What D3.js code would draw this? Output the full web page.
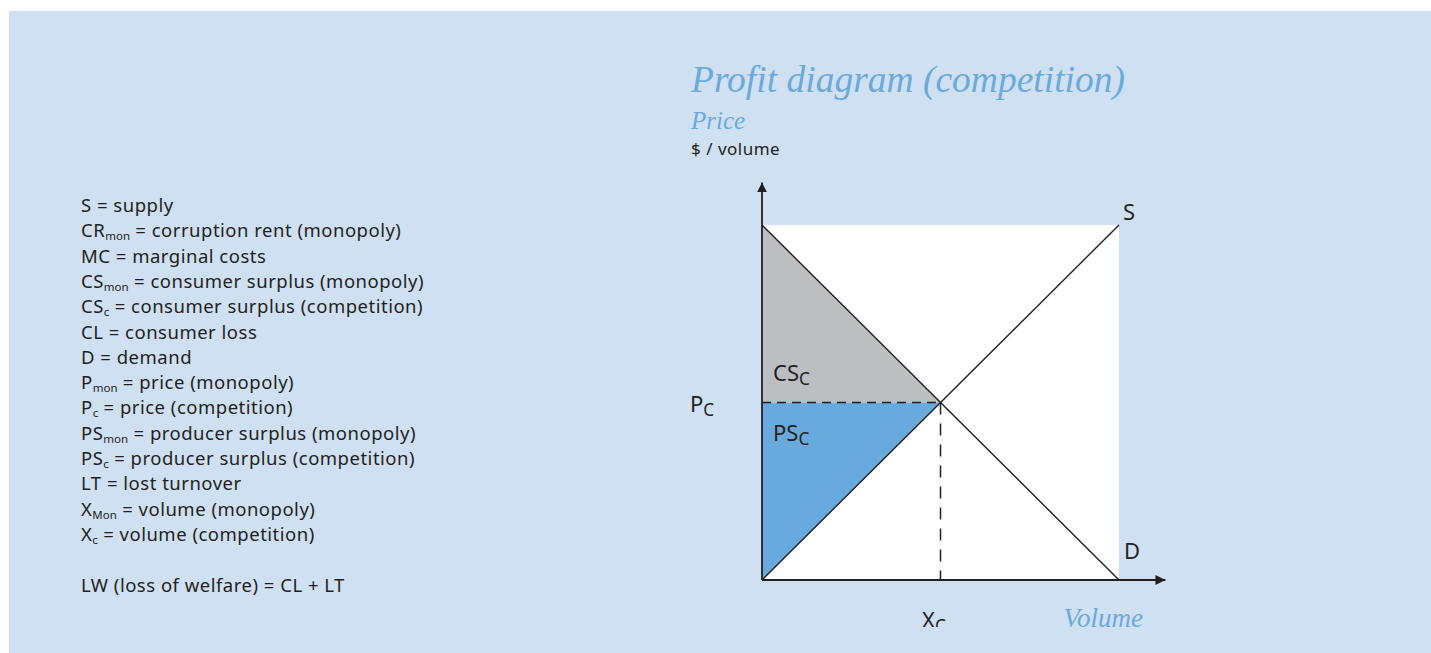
<!DOCTYPE html>
<html>
<head>
<meta charset="utf-8">
<script src="https://cdn.jsdelivr.net/npm/d3@7"></script>
<style>
  body { margin: 0; background: #ffffff; }
  svg { display: block; }
</style>
</head>
<body>
<svg id="chart" width="1431" height="653"></svg>
<script>
// legend lines: [main, subscript, rest]
var legendMain = ["S", "CR", "MC", "CS", "CS", "CL", "D", "P", "P", "PS", "PS", "LT", "X", "X", "", "LW (loss of welfare) = CL + LT"];
var legendSub  = ["", "mon", "", "mon", "c", "", "", "mon", "c", "mon", "c", "", "Mon", "c", "", ""];
var legendRest = [" = supply", " = corruption rent (monopoly)", " = marginal costs", " = consumer surplus (monopoly)",
                  " = consumer surplus (competition)", " = consumer loss", " = demand", " = price (monopoly)",
                  " = price (competition)", " = producer surplus (monopoly)", " = producer surplus (competition)",
                  " = lost turnover", " = volume (monopoly)", " = volume (competition)", "", ""];

// curves in model units
var supply = [[0, 0], [10, 10]];
var demand = [[0, 10], [10, 0]];
var equilibrium = [5, 5];   // Xc, Pc
var xMax = 10, yMax = 10;

var svg = d3.select("#chart");

// background panel
svg.append("rect")
   .attr("x", 9).attr("y", 11)
   .attr("width", 1431 - 9).attr("height", 653 - 11)
   .attr("fill", "#cfe0f2");

var x = d3.scaleLinear().domain([0, xMax]).range([762, 1119]);
var y = d3.scaleLinear().domain([0, yMax]).range([580, 225]);

var g = svg.append("g");

// white plot box
g.append("rect")
  .attr("x", x(0)).attr("y", y(yMax))
  .attr("width", x(xMax) - x(0)).attr("height", y(0) - y(yMax))
  .attr("fill", "#ffffff");

var area = d3.line().x(function(d){ return x(d[0]); }).y(function(d){ return y(d[1]); });

// consumer surplus (grey)
g.append("path")
  .attr("d", area([[0, demand[0][1]], [0, equilibrium[1]], equilibrium]) + "Z")
  .attr("fill", "#bdbec2");

// producer surplus (blue)
g.append("path")
  .attr("d", area([[0, 0], [0, equilibrium[1]], equilibrium]) + "Z")
  .attr("fill", "#69aade");

// dashed guides
g.append("line")
  .attr("x1", x(0)).attr("x2", x(equilibrium[0]))
  .attr("y1", y(equilibrium[1])).attr("y2", y(equilibrium[1]))
  .attr("stroke", "#231f20").attr("stroke-width", 1.5)
  .attr("stroke-dasharray", "9,6");
g.append("line")
  .attr("x1", x(equilibrium[0])).attr("x2", x(equilibrium[0]))
  .attr("y1", y(equilibrium[1])).attr("y2", y(0))
  .attr("stroke", "#231f20").attr("stroke-width", 1.5)
  .attr("stroke-dasharray", "12,9");

// supply and demand
[supply, demand].forEach(function(c){
  g.append("path")
    .attr("d", area(c))
    .attr("fill", "none")
    .attr("stroke", "#231f20")
    .attr("stroke-width", 1.4);
});

// axes with arrowheads
var defs = svg.append("defs");
defs.append("marker")
    .attr("id", "arrow")
    .attr("viewBox", "0 0 10 10")
    .attr("refX", 10).attr("refY", 5)
    .attr("markerWidth", 10).attr("markerHeight", 10)
    .attr("markerUnits", "userSpaceOnUse")
    .attr("orient", "auto")
    .append("path")
    .attr("d", "M0,0 L10,5 L0,10 Z")
    .attr("fill", "#231f20");

g.append("line")
  .attr("x1", x(0)).attr("y1", y(0))
  .attr("x2", x(0)).attr("y2", y(11.2))
  .attr("stroke", "#231f20").attr("stroke-width", 1.8)
  .attr("marker-end", "url(#arrow)");
g.append("line")
  .attr("x1", x(0)).attr("y1", y(0))
  .attr("x2", x(11.3)).attr("y2", y(0))
  .attr("stroke", "#231f20").attr("stroke-width", 1.8)
  .attr("marker-end", "url(#arrow)");

var sans = "'Noto Sans', 'Open Sans', sans-serif";
var serif = "'Liberation Serif', 'DejaVu Serif', serif";

function subLabel(px, py, main, sub, size) {
  var t = svg.append("text")
    .attr("x", px).attr("y", py)
    .attr("font-family", sans)
    .attr("font-size", size)
    .attr("fill", "#231f20");
  t.append("tspan").text(main);
  t.append("tspan").attr("font-size", size * 0.78).attr("dy", 4).text(sub);
  return t;
}

subLabel(773, 381, "CS", "C", 22);
subLabel(773, 441, "PS", "C", 22);
subLabel(690, 412, "P", "C", 22);

svg.append("text").attr("x", 1123).attr("y", 220)
   .attr("font-family", sans).attr("font-size", 22).attr("fill", "#231f20").text("S");
svg.append("text").attr("x", 1124).attr("y", 559)
   .attr("font-family", sans).attr("font-size", 22).attr("fill", "#231f20").text("D");

// Xc label clipped at the bottom like the source
defs.append("clipPath").attr("id", "clipbottom")
    .append("rect").attr("x", 0).attr("y", 0).attr("width", 1431).attr("height", 627);
subLabel(922, 628, "X", "C", 22).attr("clip-path", "url(#clipbottom)");

// titles
svg.append("text").attr("x", 691).attr("y", 92)
   .attr("font-family", serif).attr("font-style", "italic")
   .attr("font-size", 37.5).attr("fill", "#6aaadc")
   .text("Profit diagram (competition)");
svg.append("text").attr("x", 691).attr("y", 129)
   .attr("font-family", serif).attr("font-style", "italic")
   .attr("font-size", 25).attr("fill", "#6aaadc")
   .text("Price");
svg.append("text").attr("x", 691).attr("y", 155)
   .attr("font-family", sans).attr("font-size", 17).attr("letter-spacing", 0.5).attr("fill", "#231f20")
   .text("$ / volume");
svg.append("text").attr("x", 1143).attr("y", 627)
   .attr("text-anchor", "end")
   .attr("font-family", serif).attr("font-style", "italic")
   .attr("font-size", 27).attr("fill", "#6aaadc")
   .text("Volume");

// legend
var legend = svg.append("g").attr("font-family", sans).attr("font-size", 18.5)
   .attr("letter-spacing", 0.5).attr("fill", "#231f20");
legendMain.forEach(function(m, i){
  var t = legend.append("text").attr("x", 81).attr("y", 212 + i * 25.3);
  t.append("tspan").text(m);
  if (legendSub[i]) t.append("tspan").attr("font-size", 11.5).attr("letter-spacing", 0).attr("dy", 3).text(legendSub[i]);
  t.append("tspan").attr("dy", legendSub[i] ? -3 : 0).text(legendRest[i]);
});
</script>
</body>
</html>
